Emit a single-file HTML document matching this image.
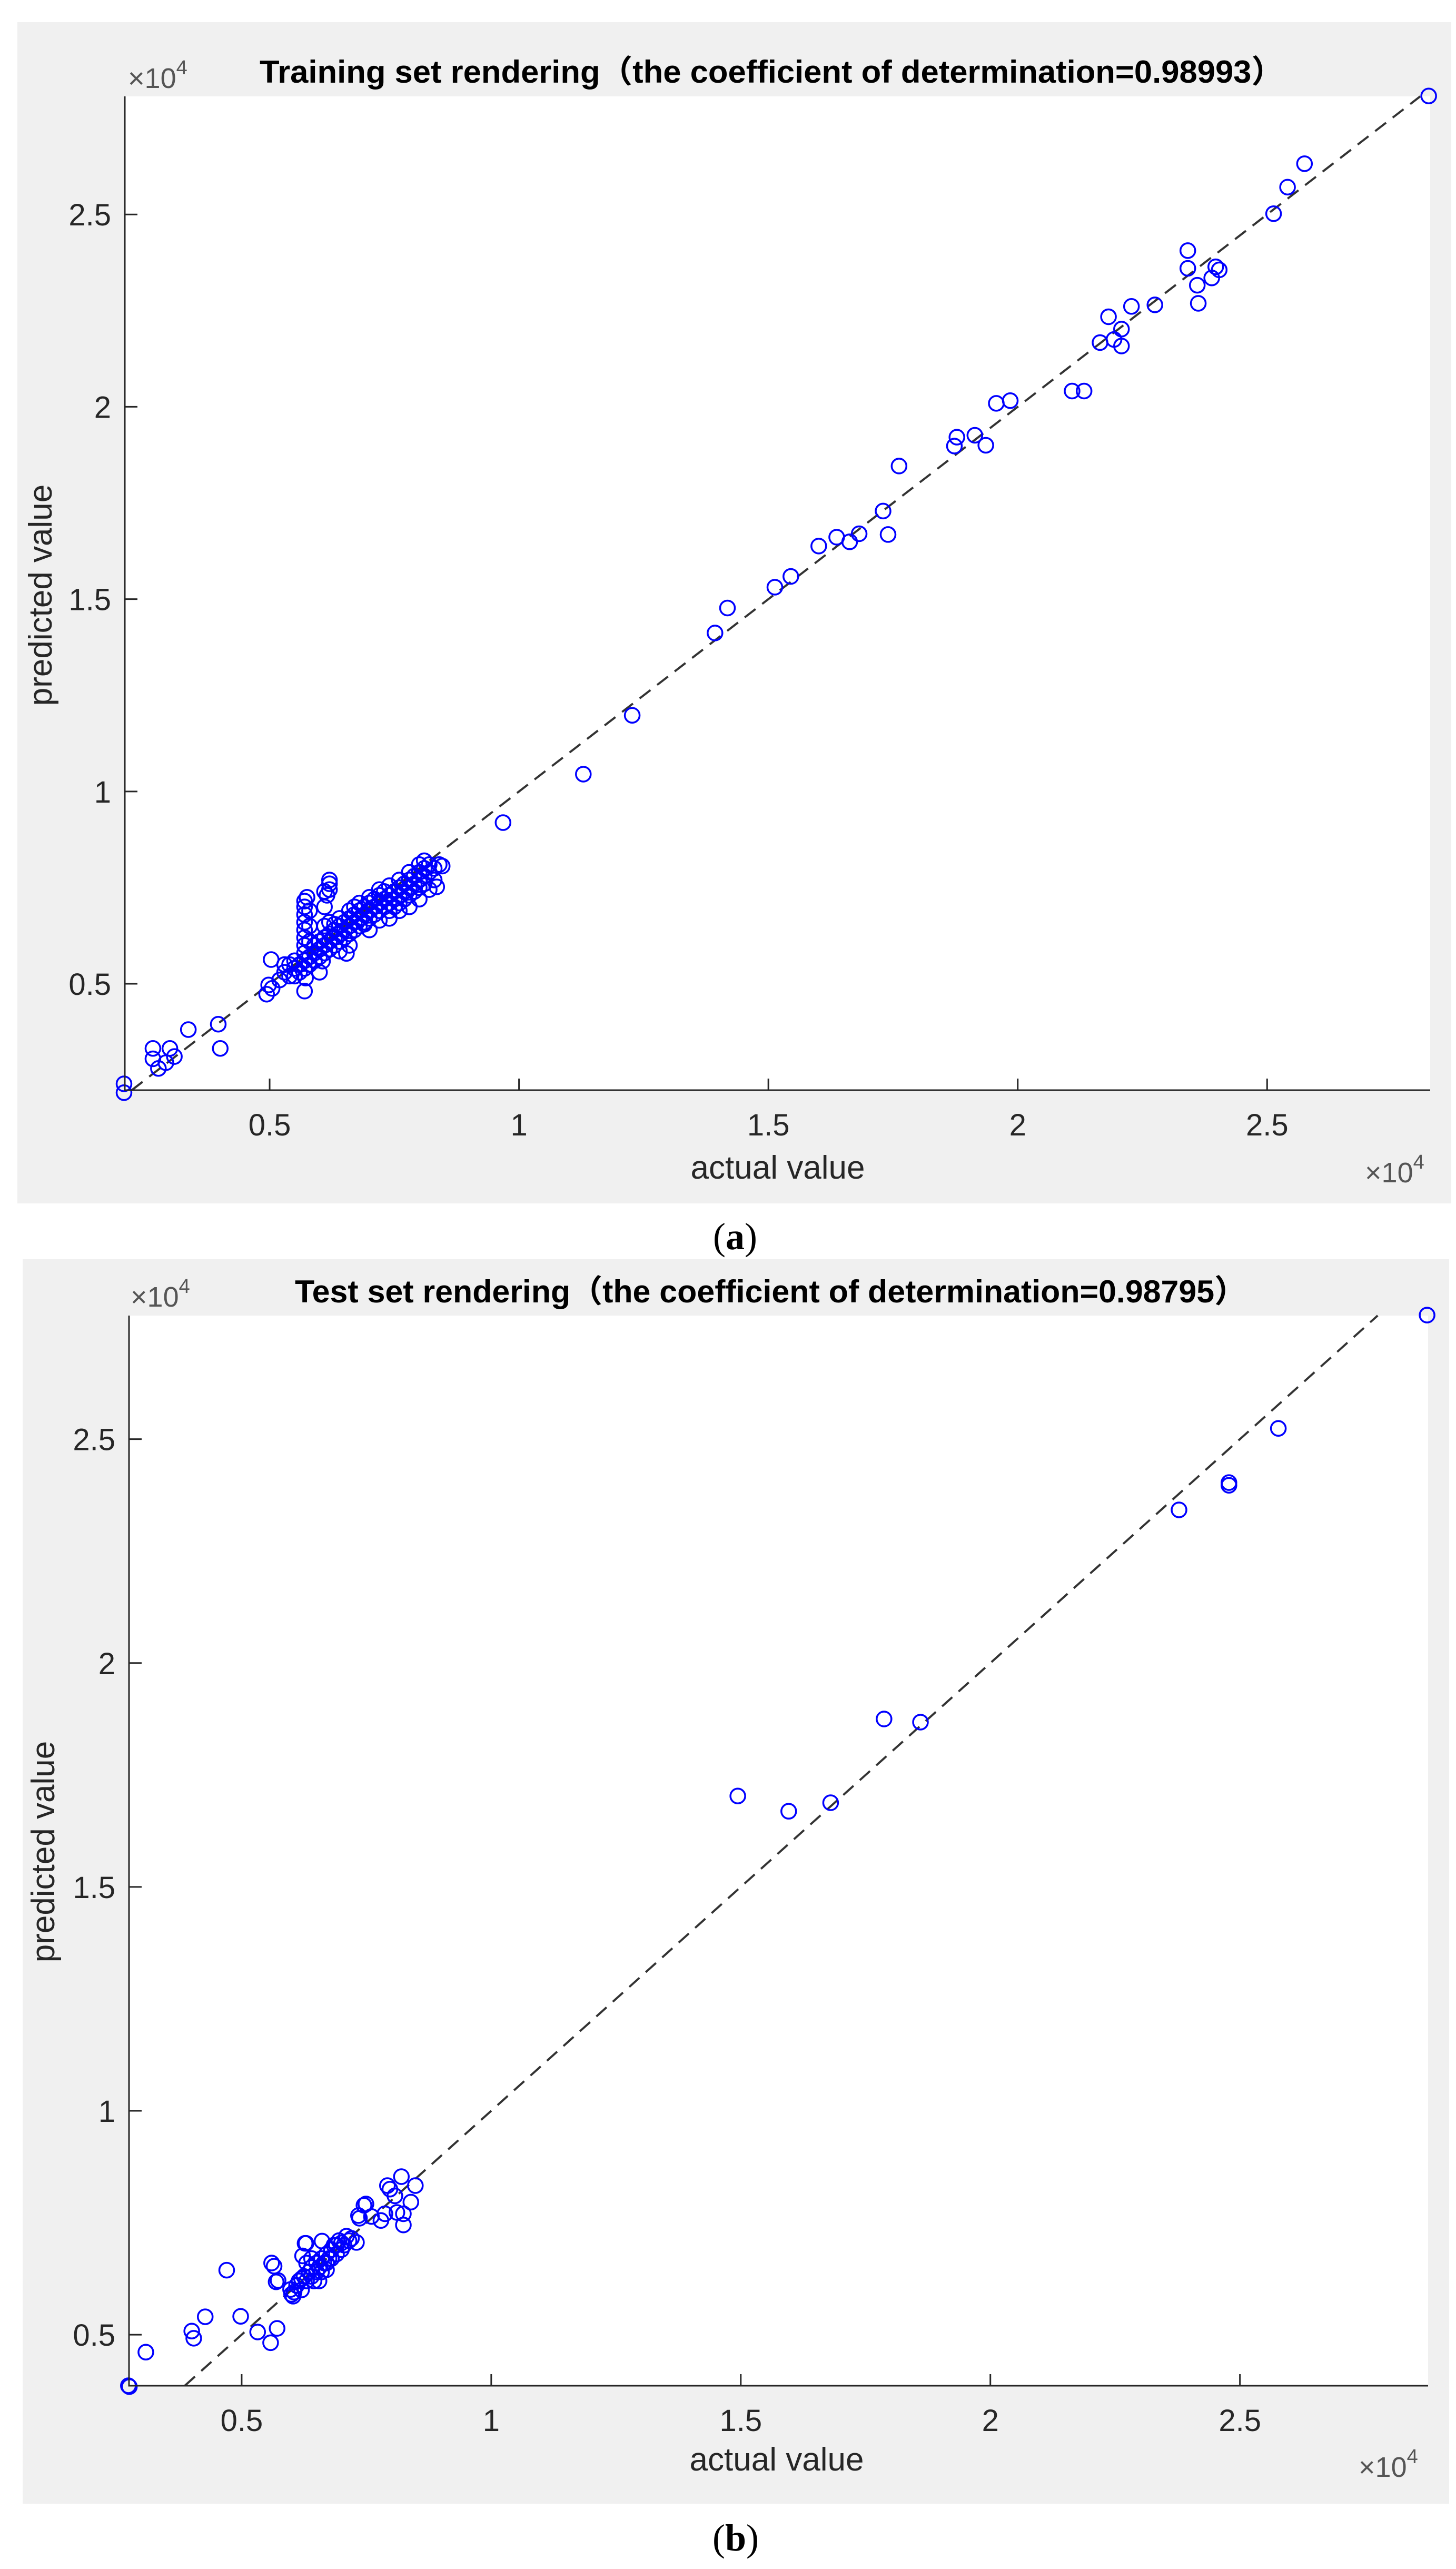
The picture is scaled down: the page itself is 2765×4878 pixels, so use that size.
<!DOCTYPE html>
<html><head><meta charset="utf-8"><style>
html,body{margin:0;padding:0;background:#fff;}
svg{display:block;}
text{font-family:"Liberation Sans","Noto Sans CJK SC",sans-serif;}
</style></head>
<body>
<svg id="fig" xmlns="http://www.w3.org/2000/svg" width="2765" height="4878" viewBox="0 0 2765 4878">
<rect x="0" y="0" width="2765" height="4878" fill="#fff"/>
</svg>
<script>
// ---- Chart (a): training set ----
const trainActual = [2.824,2.575,2.541,2.513,2.341,2.341,2.397,2.404,2.389,2.360,2.362,2.275,2.228,2.182,2.165,2.193,2.208,2.208,2.109,2.133,1.957,1.985,1.878,1.873,1.914,1.936,1.762,1.730,1.740,1.682,1.663,1.637,1.601,1.545,1.513,1.418,1.393,1.227,1.129,0.968,
0.337,0.397,0.401,0.266,0.300,0.266,0.309,0.277,0.292,0.208,0.208,
0.53,0.54,0.54,0.55,0.55,0.56,0.56,0.57,0.57,0.58,0.58,0.52,0.53,0.55,
0.57,0.57,0.57,0.57,0.57,0.57,0.57,0.57,0.575,0.58,0.58,0.58,
0.61,0.615,0.62,0.62,0.62,0.61,
0.59,0.59,0.59,0.60,0.60,0.60,0.61,0.61,0.61,0.62,0.62,0.62,0.63,0.63,0.63,0.64,0.64,0.64,0.65,0.65,0.65,0.66,0.66,0.66,0.67,0.67,0.67,0.68,0.68,0.68,0.69,0.69,0.69,0.70,0.70,0.70,0.71,0.71,0.71,0.72,0.72,0.72,0.73,0.73,0.73,0.74,0.74,0.74,0.75,0.75,0.75,0.76,0.76,0.76,0.77,0.77,0.77,0.78,0.78,0.78,0.79,0.79,0.79,0.80,0.80,0.80,0.81,0.81,0.81,0.82,0.82,0.83,0.83,0.84,0.835,0.846,0.74,0.72,0.69,0.654,0.606,0.503,0.498,0.494,0.505,0.570,0.572,0.64,0.60,0.66,0.70,0.76,0.78,0.80,0.82,0.67,0.64,0.62,0.61,0.63,0.66,0.68,0.70,0.72,0.74,0.76,0.78,0.80,0.81];
const trainPred = [2.808,2.632,2.571,2.502,2.406,2.360,2.364,2.356,2.335,2.316,2.269,2.265,2.261,2.234,2.167,2.175,2.202,2.158,2.041,2.041,2.009,2.016,1.921,1.898,1.926,1.900,1.846,1.729,1.668,1.670,1.649,1.661,1.638,1.559,1.531,1.477,1.412,1.198,1.045,0.919,
0.381,0.395,0.332,0.332,0.332,0.305,0.311,0.280,0.295,0.240,0.217,
0.53,0.55,0.52,0.54,0.56,0.55,0.53,0.56,0.54,0.57,0.55,0.51,0.55,0.52,
0.58,0.60,0.62,0.64,0.66,0.68,0.70,0.715,0.725,0.69,0.65,0.61,
0.70,0.73,0.745,0.76,0.77,0.74,
0.58,0.60,0.56,0.59,0.61,0.57,0.60,0.62,0.58,0.61,0.63,0.59,0.62,0.64,0.60,0.63,0.65,0.61,0.64,0.66,0.62,0.65,0.67,0.63,0.66,0.68,0.64,0.67,0.69,0.65,0.68,0.70,0.66,0.69,0.71,0.67,0.70,0.72,0.68,0.71,0.73,0.69,0.72,0.74,0.70,0.73,0.71,0.69,0.74,0.72,0.70,0.75,0.73,0.71,0.76,0.74,0.72,0.77,0.75,0.73,0.78,0.76,0.74,0.79,0.77,0.75,0.80,0.78,0.76,0.81,0.79,0.80,0.77,0.81,0.752,0.806,0.67,0.665,0.655,0.579,0.559,0.563,0.497,0.473,0.488,0.481,0.515,0.585,0.53,0.60,0.64,0.69,0.70,0.72,0.745,0.70,0.67,0.66,0.65,0.655,0.69,0.71,0.725,0.745,0.755,0.77,0.79,0.81,0.82];

// ---- Chart (b): test set ----
const testActual = [2.875,2.577,2.478,2.478,2.378,1.860,1.787,1.680,1.596,1.494,
0.273,0.275,0.308,0.400,0.404,0.427,0.470,0.498,0.532,0.571,0.558,0.560,0.565,0.569,0.603,0.598,0.627,0.622,0.661,0.730,0.736,0.745,
0.792,0.797,0.820,0.848,0.839,0.824,0.824,0.787,0.749,0.760,0.807,0.779,0.811,0.573,0.629,0.734,
0.61,0.615,0.62,0.625,0.63,0.635,0.64,0.64,0.645,0.65,0.65,0.655,0.66,0.66,0.665,0.67,0.67,0.675,0.68,0.68,0.685,0.69,0.69,0.695,0.70,0.70,0.705,0.71,0.715,0.72,0.63,0.64,0.62,0.60,0.605,0.655,0.67];
const testPred = [2.777,2.524,2.403,2.397,2.342,1.868,1.875,1.688,1.669,1.703,
0.386,0.384,0.461,0.508,0.492,0.540,0.644,0.541,0.506,0.514,0.482,0.660,0.653,0.618,0.586,0.601,0.704,0.676,0.709,0.706,0.760,0.789,
0.833,0.825,0.853,0.833,0.796,0.770,0.745,0.770,0.792,0.764,0.810,0.755,0.773,0.621,0.704,0.766,
0.61,0.62,0.60,0.63,0.62,0.64,0.63,0.65,0.62,0.64,0.66,0.65,0.67,0.64,0.66,0.68,0.66,0.67,0.69,0.67,0.70,0.68,0.70,0.71,0.69,0.705,0.70,0.72,0.71,0.715,0.66,0.67,0.625,0.59,0.595,0.62,0.645];

const xTicks = [0.5,1,1.5,2,2.5];
const xTickLabels = ["0.5","1","1.5","2","2.5"];
const yTicks = [0.5,1,1.5,2,2.5];
const yTickLabels = ["0.5","1","1.5","2","2.5"];

const NS = "http://www.w3.org/2000/svg";
const svg = document.getElementById('fig');
function mk(tag, attrs, parent){
  const e = document.createElementNS(NS, tag);
  for (const k in attrs) e.setAttribute(k, attrs[k]);
  (parent||svg).appendChild(e);
  return e;
}

function drawChart(cfg){
  const g = mk('g', {});
  
  
  const panel = mk('rect', {x:cfg.panel[0], y:cfg.panel[1], width:cfg.panel[2]-cfg.panel[0], height:cfg.panel[3]-cfg.panel[1], fill:'#f0f0f0'}, g);
  
  
  const L=cfg.ax[0], T=cfg.ax[1], R=cfg.ax[2], B=cfg.ax[3];
  const plot = mk('rect', {x:L, y:T, width:R-L, height:B-T, fill:'#fff'}, g);
  
  
  const sx = v => L + (v - cfg.xr[0]) / (cfg.xr[1]-cfg.xr[0]) * (R-L);
  const sy = v => B - (v - cfg.yr[0]) / (cfg.yr[1]-cfg.yr[0]) * (B-T);
  const clipId = cfg.name + '-clip';
  const cp = mk('clipPath', {id:clipId}, g);
  mk('rect', {x:L, y:T, width:R-L, height:B-T}, cp);

  // reference line y = x
  const lo = Math.max(cfg.xr[0], cfg.yr[0]), hi = Math.min(cfg.xr[1], cfg.yr[1]);
  const ref = mk('line', {x1:sx(lo), y1:sy(lo), x2:sx(hi), y2:sy(hi), stroke:'#333', 'stroke-width':4, 'stroke-dasharray':'26 16'}, g);
  
  

  // points
  const pg = mk('g', {fill:'none', stroke:'#0000ff', 'stroke-width':3.5}, g);
  
  
  for (let i=0;i<cfg.xs.length;i++){
    const c = mk('circle', {cx:sx(cfg.xs[i]), cy:sy(cfg.ys[i]), r:14}, pg);
    
    
  }

  // axes
  const ax = mk('path', {d:`M${L} ${T} V${B} H${R}`, fill:'none', stroke:'#262626', 'stroke-width':3}, g);
  
  
  xTicks.forEach((t,i)=>{
    const x = sx(t);
    mk('line', {x1:x, y1:B, x2:x, y2:B-22, stroke:'#262626', 'stroke-width':3}, g);
    const tx = mk('text', {x:x, y:B+86, 'font-size':58, fill:'#262626', 'text-anchor':'middle'}, g);
    tx.textContent = xTickLabels[i];
    
    
  });
  yTicks.forEach((t,i)=>{
    const y = sy(t);
    mk('line', {x1:L, y1:y, x2:L+24, y2:y, stroke:'#262626', 'stroke-width':3}, g);
    const tx = mk('text', {x:L-26, y:y+21, 'font-size':58, fill:'#262626', 'text-anchor':'end'}, g);
    tx.textContent = yTickLabels[i];
    
    
  });

  // title
  const title = mk('text', {x:cfg.title[1], y:cfg.title[3], 'font-size':60, 'font-weight':'bold', fill:'#000', textLength:cfg.title[2]-cfg.title[1], lengthAdjust:'spacingAndGlyphs'}, g);
  title.textContent = cfg.title[0];
  
  

  // exponent labels
  function expo(x, y, nm){
    const t = mk('text', {x:x, y:y, 'font-size':54, fill:'#555'}, g);
    
    
    const a = mk('tspan', {}, t); a.textContent = '×10';
    const b = mk('tspan', {dy:-26, 'font-size':38}, t); b.textContent = '4';
  }
  expo(cfg.yExp[0], cfg.yExp[1], 'y-exponent-label');
  expo(cfg.xExp[0], cfg.xExp[1], 'x-exponent-label');

  const xl = mk('text', {x:cfg.xLab[0], y:cfg.xLab[1], 'font-size':62, fill:'#262626', 'text-anchor':'middle'}, g);
  xl.textContent = 'actual value';
  
  
  const yl = mk('text', {x:0, y:0, 'font-size':62, fill:'#262626', 'text-anchor':'middle', transform:`translate(${cfg.yLab[0]},${cfg.yLab[1]}) rotate(-90)`}, g);
  yl.textContent = 'predicted value';
  
  

  const cap = mk('text', {x:cfg.cap[0], y:cfg.cap[1], 'font-size':72, fill:'#000', 'text-anchor':'middle', style:'font-family:"Liberation Serif",serif'}, g);
  
  
  const c1 = mk('tspan', {}, cap); c1.textContent='(';
  const c2 = mk('tspan', {'font-weight':'bold'}, cap); c2.textContent=cfg.cap[2];
  const c3 = mk('tspan', {}, cap); c3.textContent=')';
}

drawChart({name:'training-chart', panel:[33,42,2756,2285], ax:[237,183,2716,2070],
  xr:[0.2096,2.827], yr:[0.2235,2.807], xs:trainActual, ys:trainPred,
  title:['Training set rendering（the coefficient of determination=0.98993）',493,2438,157],
  yExp:[243,167], xExp:[2592,2245], xLab:[1477,2238], yLab:[98,1130], cap:[1396,2372,'a']});

drawChart({name:'test-chart', panel:[43,2391,2752,4754], ax:[245,2498,2712,4530],
  xr:[0.2743,2.877], yr:[0.386,2.776], xs:testActual, ys:testPred,
  title:['Test set rendering（the coefficient of determination=0.98795）',560,2367,2473],
  yExp:[248,2481], xExp:[2580,4703], xLab:[1475,4691], yLab:[103,3516], cap:[1397,4843,'b']});
</script>
</body></html>
